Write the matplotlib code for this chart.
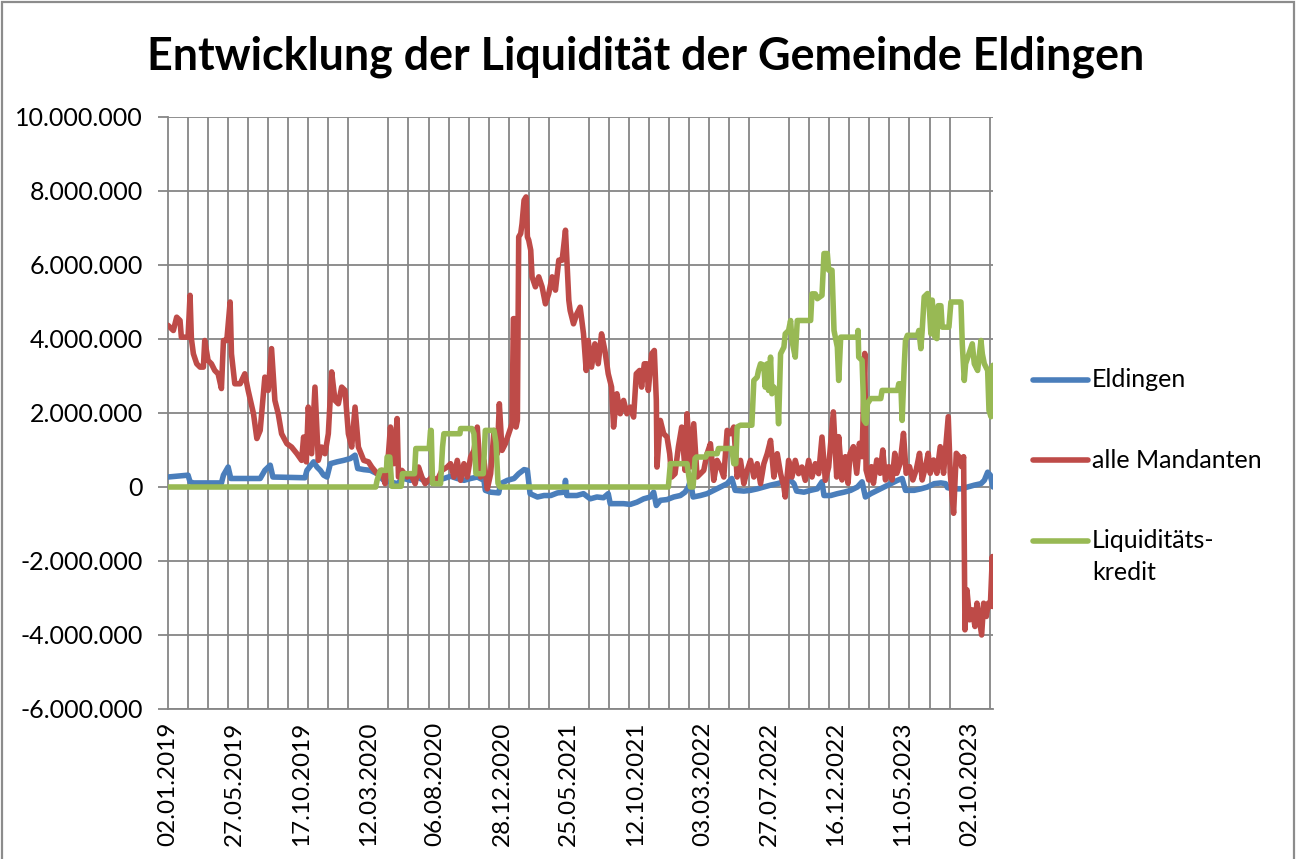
import numpy as np
import matplotlib
matplotlib.use("Agg")
import matplotlib.pyplot as plt
from matplotlib.lines import Line2D
from matplotlib.patches import Rectangle
from matplotlib.ticker import FuncFormatter, MultipleLocator, FixedLocator

# ---------------- data ----------------
title = "Entwicklung der Liquidität der Gemeinde Eldingen"
series_names = ["Eldingen", "alle Mandanten", "Liquiditäts-\nkredit"]
tick_labels = ["02.01.2019", "27.05.2019", "17.10.2019", "12.03.2020", "06.08.2020",
               "28.12.2020", "25.05.2021", "12.10.2021", "03.03.2022", "27.07.2022",
               "16.12.2022", "11.05.2023", "02.10.2023"]
n_points = 1236          # number of booking days (categories)
label_every = 100        # a date label every 100 categories
grid_every = 30          # a vertical grid line every 30 categories

# Eldingen: (category index, value in Mio. EUR)
eld_idx = [0, 30, 33, 38, 80, 83, 90, 94, 138, 145, 153, 157, 205, 208, 218, 223, 228, 233, 238, 243,
           253, 263, 273, 280, 284, 293, 303, 313, 323, 333, 343, 353, 363, 373, 383, 393, 403, 413, 423,
           433, 443, 453, 463, 473, 475, 483, 495, 498, 508, 518, 525, 533, 538, 542, 553, 563, 573, 583,
           593, 595, 597, 612, 622, 632, 642, 652, 659, 662, 672, 682, 692, 702, 712, 722, 727, 731, 737,
           747, 757, 767, 774, 779, 782, 786, 797, 807, 817, 827, 837, 844, 849, 862, 872, 882, 892, 902,
           912, 922, 932, 937, 941, 952, 962, 972, 979, 982, 992, 1002, 1012, 1022, 1032, 1039, 1044, 1052,
           1062, 1072, 1082, 1092, 1099, 1104, 1117, 1127, 1137, 1147, 1157, 1164, 1167, 1177, 1187, 1197,
           1207, 1217, 1222, 1227, 1231, 1235]
eld_mio = [0.27, 0.32, 0.14, 0.11, 0.11, 0.32, 0.54, 0.23, 0.23, 0.45, 0.59, 0.27, 0.25, 0.45, 0.68, 0.54,
           0.45, 0.32, 0.27, 0.63, 0.68, 0.72, 0.77, 0.86, 0.50, 0.47, 0.45, 0.36, 0.18, 0.14, 0.09, 0.23,
           0.18, 0.27, 0.18, 0.14, 0.18, 0.23, 0.29, 0.23, 0.18, 0.23, 0.27, 0.18, -0.09, -0.14, -0.16, 0.09,
           0.18, 0.23, 0.36, 0.47, 0.45, -0.18, -0.27, -0.23, -0.23, -0.16, -0.14, 0.18, -0.23, -0.23, -0.18,
           -0.32, -0.27, -0.29, -0.18, -0.45, -0.45, -0.45, -0.47, -0.41, -0.32, -0.27, -0.14, -0.50, -0.36,
           -0.34, -0.27, -0.23, -0.14, 0.00, 0.18, -0.27, -0.23, -0.18, -0.09, 0.00, 0.09, 0.23, -0.09, -0.11,
           -0.09, -0.05, 0.00, 0.05, 0.09, 0.14, 0.18, 0.09, -0.11, -0.14, -0.09, -0.05, 0.14, -0.23, -0.23,
           -0.18, -0.14, -0.09, 0.00, 0.14, -0.27, -0.18, -0.09, 0.00, 0.09, 0.18, 0.23, -0.09, -0.09, -0.05,
           0.00, 0.09, 0.11, 0.09, -0.02, -0.05, -0.05, 0.00, 0.05, 0.09, 0.18, 0.40, 0.32, 0.00]

# alle Mandanten
man_idx = [0, 8, 13, 18, 20, 30, 33, 35, 38, 43, 48, 53, 55, 60, 65, 70, 75, 80, 83, 88, 93, 95, 100, 108,
           115, 120, 128, 133, 138, 145, 150, 155, 160, 165, 170, 178, 185, 193, 200, 203, 207, 210, 215,
           220, 225, 230, 235, 240, 245, 250, 255, 260, 265, 270, 275, 280, 285, 293, 300, 305, 313, 320,
           325, 330, 333, 338, 343, 345, 350, 358, 363, 370, 375, 380, 385, 390, 395, 403, 410, 418, 423,
           428, 433, 438, 443, 448, 453, 458, 463, 468, 473, 478, 483, 488, 493, 496, 500, 505, 510, 515,
           517, 519, 521, 523, 525, 528, 530, 533, 536, 538, 540, 543, 545, 550, 555, 560, 565, 570, 575,
           580, 585, 590, 595, 600, 602, 607, 612, 617, 622, 626, 629, 634, 639, 644, 649, 654, 659, 664,
           667, 672, 677, 682, 687, 692, 697, 701, 706, 709, 713, 717, 719, 724, 728, 731, 732, 737, 742,
           747, 751, 754, 759, 764, 769, 774, 777, 782, 787, 792, 797, 802, 807, 812, 817, 822, 827, 832,
           837, 842, 847, 852, 857, 862, 867, 872, 877, 882, 887, 892, 897, 902, 907, 912, 917, 922, 924,
           929, 934, 939, 944, 949, 954, 959, 964, 969, 974, 979, 984, 989, 996, 1001, 1004, 1009, 1014,
           1018, 1021, 1026, 1031, 1035, 1039, 1043, 1045, 1049, 1053, 1056, 1061, 1066, 1070, 1074, 1079,
           1084, 1088, 1091, 1096, 1101, 1105, 1110, 1115, 1120, 1125, 1129, 1134, 1138, 1141, 1146, 1151,
           1156, 1161, 1168, 1171, 1176, 1180, 1184, 1188, 1191, 1193, 1196, 1200, 1204, 1208, 1211, 1214,
           1218, 1221, 1225, 1228, 1231, 1234, 1235]
man_mio = [4.37, 4.23, 4.59, 4.50, 4.05, 4.05, 5.18, 4.01, 3.60, 3.33, 3.24, 3.24, 3.96, 3.42, 3.33, 3.15,
           3.06, 2.66, 3.96, 3.96, 5.00, 3.60, 2.79, 2.79, 3.06, 2.61, 1.98, 1.31, 1.53, 2.97, 2.61, 3.74,
           2.34, 1.98, 1.44, 1.17, 1.08, 0.90, 0.72, 1.35, 0.68, 2.16, 0.90, 2.70, 0.72, 1.08, 0.90, 1.44,
           3.11, 2.34, 2.25, 2.70, 2.61, 1.44, 1.08, 2.16, 1.08, 0.72, 0.68, 0.54, 0.36, 0.45, 0.09, 0.90,
           1.62, 0.63, 1.85, 0.27, 0.45, 0.27, 0.36, 0.09, 0.54, 0.27, 0.09, 0.18, 0.27, 0.18, 0.45, 0.54,
           0.63, 0.27, 0.72, 0.18, 0.63, 0.27, 0.81, 0.99, 1.62, 0.27, 0.72, -0.05, 0.36, 1.53, 0.90, 2.25,
           0.99, 1.17, 1.44, 1.71, 4.55, 4.55, 1.62, 1.80, 6.76, 6.85, 7.12, 7.75, 7.84, 6.76, 6.67, 6.40,
           5.68, 5.41, 5.68, 5.41, 4.95, 5.23, 5.68, 5.32, 6.13, 6.13, 6.94, 5.05, 4.77, 4.41, 4.68, 4.86,
           4.14, 3.15, 3.96, 3.24, 3.87, 3.33, 4.14, 3.69, 3.06, 2.70, 1.62, 2.52, 1.98, 2.34, 1.98, 2.16,
           1.89, 3.06, 3.15, 2.70, 3.33, 3.33, 2.61, 3.60, 3.69, 2.34, 0.54, 1.80, 1.44, 1.35, 0.90, 0.27,
           0.36, 1.08, 1.62, 0.45, 1.98, 0.54, 1.71, 0.27, 0.36, 0.45, 0.90, 1.17, 0.18, 0.72, 0.54, 0.27,
           1.53, 1.44, 1.62, 0.27, 0.72, 0.09, 0.45, 0.72, 0.27, 0.63, 0.09, 0.63, 0.90, 1.26, 0.27, 0.90,
           0.36, 0.00, -0.27, 0.72, 0.27, 0.72, 0.36, 0.54, 0.18, 0.72, 0.27, 0.63, 0.36, 1.35, 0.18, 0.54,
           2.03, 0.27, 1.36, 0.19, 0.82, 0.10, 0.91, 1.09, 0.37, 1.18, 0.82, 3.61, 0.46, 0.19, 0.55, 0.10,
           0.73, 0.37, 1.00, 0.19, 0.55, 0.19, 0.91, 0.37, 0.64, 1.45, 0.37, 0.55, 0.19, 0.46, 0.91, 0.19,
           0.55, 0.91, 0.37, 0.73, 0.37, 1.09, 0.37, 1.90, 0.37, -0.71, 0.91, 0.82, 0.55, 0.82, -3.86, -2.78,
           -3.59, -3.32, -3.77, -3.14, -3.50, -4.00, -3.14, -3.50, -3.14, -3.23, -1.88, -3.23]

# Liquiditätskredit
kre_idx = [0, 311, 313, 318, 327, 328, 332, 335, 349, 351, 369, 371, 391, 393, 394, 396, 408, 411, 413, 437,
           438, 455, 458, 461, 472, 475, 488, 491, 494, 497, 749, 752, 777, 782, 786, 789, 791, 805, 807,
           822, 824, 844, 847, 850, 852, 857, 874, 877, 882, 884, 887, 892, 894, 897, 899, 902, 904, 907,
           912, 914, 917, 922, 924, 929, 932, 934, 939, 942, 962, 964, 969, 972, 979, 982, 987, 989, 994,
           997, 1002, 1004, 1007, 1032, 1033, 1034, 1039, 1042, 1045, 1047, 1052, 1067, 1069, 1092, 1094,
           1097, 1099, 1102, 1104, 1107, 1122, 1124, 1127, 1129, 1132, 1137, 1139, 1142, 1144, 1148, 1151,
           1153, 1157, 1159, 1169, 1172, 1187, 1189, 1192, 1194, 1199, 1204, 1207, 1212, 1217, 1219, 1222,
           1227, 1229, 1232, 1234, 1235]
kre_mio = [0.00, 0.00, 0.18, 0.45, 0.45, 0.81, 0.81, 0.02, 0.02, 0.36, 0.36, 1.04, 1.04, 1.53, 1.53, 0.09,
           0.09, 1.08, 1.44, 1.44, 1.58, 1.58, 1.44, 0.36, 0.36, 1.53, 1.53, 1.20, 0.10, 0.00, 0.00, 0.63,
           0.63, 0.00, 0.00, 0.77, 0.81, 0.81, 0.90, 0.90, 1.04, 1.04, 0.63, 0.63, 1.62, 1.67, 1.67, 2.88,
           2.97, 3.15, 3.33, 3.29, 2.70, 3.33, 2.61, 3.51, 2.52, 2.70, 2.52, 1.71, 3.60, 3.78, 4.14, 4.23,
           4.50, 3.96, 3.51, 4.50, 4.50, 5.22, 5.22, 5.09, 5.18, 6.31, 6.31, 5.86, 5.86, 4.23, 3.78, 2.88,
           4.05, 4.05, 4.23, 3.51, 3.42, 1.80, 1.72, 2.25, 2.39, 2.39, 2.61, 2.61, 2.79, 2.79, 1.80, 3.24,
           3.96, 4.10, 4.10, 4.23, 3.74, 4.23, 5.14, 5.23, 5.05, 4.14, 5.05, 4.05, 4.01, 4.90, 4.90, 4.32,
           4.32, 5.00, 5.00, 3.87, 2.88, 3.33, 3.60, 3.87, 3.33, 3.15, 3.96, 3.60, 3.33, 3.15, 2.07, 1.90,
           3.24, 3.29]

colors = ["#4A7EBB", "#BE4B48", "#98B954"]
mio = 1e6

# ---------------- figure ----------------
W, H = 1297, 859
plt.rcParams['font.family'] = ['Lato', 'DejaVu Sans']
fig = plt.figure(figsize=(W / 100, H / 100), dpi=100)
fig.patch.set_facecolor("white")

L, R, T, B = 168, 993, 117, 709
ax = fig.add_axes([L / W, 1 - B / H, (R - L) / W, (B - T) / H])

LW = 4.0
series = [(eld_idx, eld_mio), (man_idx, man_mio), (kre_idx, kre_mio)]
for (xi, yv), c in zip(series, colors):
    ax.plot(xi, np.array(yv) * mio, color=c, lw=LW,
            solid_joinstyle="round", solid_capstyle="round", zorder=3)

ax.set_xlim(0, n_points - 1)
ax.set_ylim(-6e6, 10e6)

grid_c = "#868686"
ax.yaxis.set_major_locator(MultipleLocator(2e6))
ax.yaxis.set_major_formatter(FuncFormatter(lambda v, p: f"{int(round(v)):,}".replace(",", ".")))
ax.xaxis.set_major_locator(FixedLocator(np.arange(0, len(tick_labels) * label_every, label_every)))
ax.set_xticklabels(tick_labels, rotation=90, va="top", ha="center")
ax.xaxis.set_minor_locator(FixedLocator(np.arange(0, n_points, grid_every)))

ax.grid(which="minor", axis="x", color=grid_c, lw=1.3, zorder=1)
ax.grid(which="major", axis="y", color=grid_c, lw=1.3, zorder=1)
ax.grid(which="major", axis="x", visible=False)

for s in ["top", "right"]:
    ax.spines[s].set_visible(False)
for s in ["left", "bottom"]:
    ax.spines[s].set_color(grid_c)
    ax.spines[s].set_linewidth(1.3)

FS = 18
ax.tick_params(axis="y", which="major", length=7, width=1.3, color=grid_c,
               labelsize=FS, pad=11, labelcolor="black")
ax.tick_params(axis="x", which="both", length=0, labelsize=17.5, pad=9, labelcolor="black")

# title
fig.text(0.498, 1 - 57 / H, title, ha="center", va="center", fontsize=32.3, fontweight="bold")

# legend (drawn in figure pixels)
leg_rows = [380, 460, 541]
line_step = 31
for name, c, yy in zip(series_names, colors, leg_rows):
    fig.add_artist(Line2D([1033 / W, 1088 / W], [1 - yy / H, 1 - yy / H], color=c, lw=LW,
                          solid_capstyle="round", transform=fig.transFigure))
    for k, part in enumerate(name.split("\n")):
        fig.text(1092 / W, 1 - (yy + k * line_step) / H, part, ha="left", va="center",
                 fontsize=FS)

# outer frame
fig.add_artist(Rectangle((2 / W, -0.01), (W - 5) / W, 1 - 2 / H + 0.01, transform=fig.transFigure,
                         fill=False, edgecolor="#8c8c8c", lw=1.6))

fig.savefig("out.png", dpi=100)
